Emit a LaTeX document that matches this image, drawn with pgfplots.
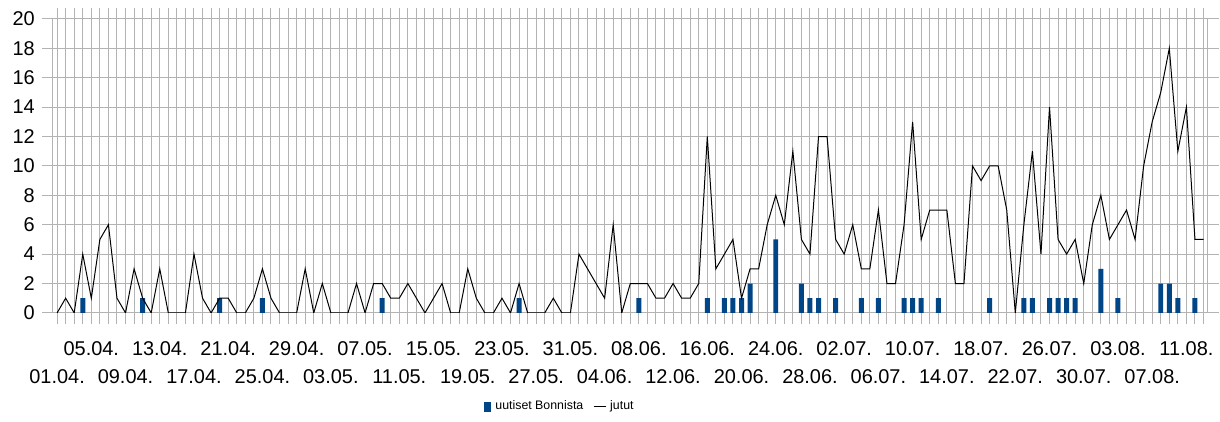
\documentclass[border=0pt]{standalone}
\usepackage{pgfplots}
\pgfplotsset{compat=1.18}
\usepackage{fontspec}
\setmainfont{Liberation Sans}
\definecolor{bonn}{HTML}{004586}
\definecolor{gridgray}{HTML}{B3B3B3}
\begin{document}
\begin{tikzpicture}
\begin{axis}[
  scale only axis, width=579.5pt, height=147.5pt,
  xmin=-0.5, xmax=134.5, ymin=0, ymax=20,
  ytick={0,2,...,20},
  xtick={0,4,...,132},
  minor xtick={0,...,134},
  xticklabels={{\strut\\\strut 01.04.},{\strut 05.04.},{\strut\\\strut 09.04.},{\strut 13.04.},
    {\strut\\\strut 17.04.},{\strut 21.04.},{\strut\\\strut 25.04.},{\strut 29.04.},
    {\strut\\\strut 03.05.},{\strut 07.05.},{\strut\\\strut 11.05.},{\strut 15.05.},
    {\strut\\\strut 19.05.},{\strut 23.05.},{\strut\\\strut 27.05.},{\strut 31.05.},
    {\strut\\\strut 04.06.},{\strut 08.06.},{\strut\\\strut 12.06.},{\strut 16.06.},
    {\strut\\\strut 20.06.},{\strut 24.06.},{\strut\\\strut 28.06.},{\strut 02.07.},
    {\strut\\\strut 06.07.},{\strut 10.07.},{\strut\\\strut 14.07.},{\strut 18.07.},
    {\strut\\\strut 22.07.},{\strut 26.07.},{\strut\\\strut 30.07.},{\strut 03.08.},
    {\strut\\\strut 07.08.},{\strut 11.08.}},
  tick align=outside,
  major tick length=5.5pt, minor tick length=5.5pt,
  tick style={gridgray, line width=0.5pt},
  minor tick style={gridgray, line width=0.5pt},
  grid=both,
  major grid style={gridgray, line width=0.5pt},
  minor grid style={gridgray, line width=0.5pt},
  axis line style={gridgray, line width=0.5pt},
  tick label style={font=\fontsize{10}{14}\selectfont, /pgf/number format/assume math mode=true},
  xticklabel style={align=center, anchor=north, yshift=-2.5pt},
  legend style={draw=none, fill=none, at={(0.44,-0.32)}, anchor=center,
    font=\fontsize{6.2}{7}\selectfont, legend columns=2,
    /tikz/every even column/.append style={column sep=3pt}},
]
\addplot[ybar, bar width=2.5pt, bar shift=0pt, fill=bonn, draw=none,
  legend image code/.code={\fill[bonn] (0pt,-2.5pt) rectangle (3.5pt,2.5pt);}]
  coordinates {(3,1) (10,1) (19,1) (24,1) (38,1) (54,1) (68,1) (76,1) (78,1) (79,1)
  (80,1) (81,2) (84,5) (87,2) (88,1) (89,1) (91,1) (94,1) (96,1) (99,1) (100,1)
  (101,1) (103,1) (109,1) (113,1) (114,1) (116,1) (117,1) (118,1) (119,1) (122,3)
  (124,1) (129,2) (130,2) (131,1) (133,1)};
\addlegendentry{uutiset Bonnista}
\addplot[black, line width=0.5pt, mark=none,
  legend image code/.code={\draw[black, line width=0.5pt] (0pt,0pt) -- (6pt,0pt);}]
  coordinates {(0,0) (1,1) (2,0) (3,4) (4,1) (5,5) (6,6) (7,1) (8,0) (9,3)
  (10,1) (11,0) (12,3) (13,0) (14,0) (15,0) (16,4) (17,1) (18,0) (19,1)
  (20,1) (21,0) (22,0) (23,1) (24,3) (25,1) (26,0) (27,0) (28,0) (29,3)
  (30,0) (31,2) (32,0) (33,0) (34,0) (35,2) (36,0) (37,2) (38,2) (39,1)
  (40,1) (41,2) (42,1) (43,0) (44,1) (45,2) (46,0) (47,0) (48,3) (49,1)
  (50,0) (51,0) (52,1) (53,0) (54,2) (55,0) (56,0) (57,0) (58,1) (59,0)
  (60,0) (61,4) (62,3) (63,2) (64,1) (65,6) (66,0) (67,2) (68,2) (69,2)
  (70,1) (71,1) (72,2) (73,1) (74,1) (75,2) (76,12) (77,3) (78,4) (79,5)
  (80,1) (81,3) (82,3) (83,6) (84,8) (85,6) (86,11) (87,5) (88,4) (89,12)
  (90,12) (91,5) (92,4) (93,6) (94,3) (95,3) (96,7) (97,2) (98,2) (99,6)
  (100,13) (101,5) (102,7) (103,7) (104,7) (105,2) (106,2) (107,10) (108,9) (109,10)
  (110,10) (111,7) (112,0) (113,6) (114,11) (115,4) (116,14) (117,5) (118,4) (119,5)
  (120,2) (121,6) (122,8) (123,5) (124,6) (125,7) (126,5) (127,10) (128,13) (129,15)
  (130,18) (131,11) (132,14) (133,5) (134,5)};
\addlegendentry{jutut}
\end{axis}
\path ([shift={(-26.5pt,-54.5pt)}]current axis.south west) rectangle ([shift={(4pt,9.5pt)}]current axis.north east);
\end{tikzpicture}
\end{document}
